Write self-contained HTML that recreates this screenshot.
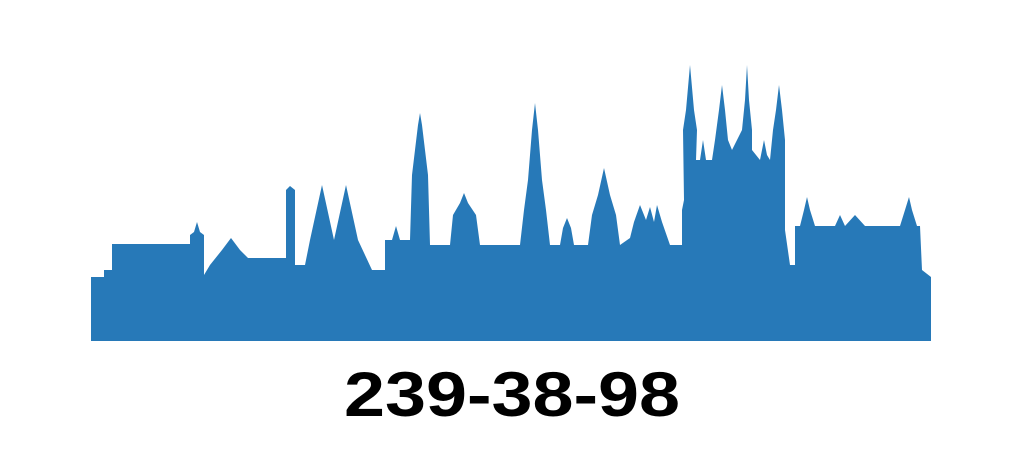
<!DOCTYPE html>
<html><head><meta charset="utf-8"><style>
html,body{margin:0;padding:0;background:#fff;width:1017px;height:465px;overflow:hidden}
</style></head><body>
<svg width="1017" height="465" viewBox="0 0 1017 465">
<g fill="#2779b8">
<path d="
M91,341 L91,277 L104,277 L104,270 L112,270 L112,244 L190,244 L190,235 L194,232 L197,222 L200,232 L204,235 L204,275 L210,265 L222,250 L231,238 L240,250 L248,258 L286,258 L286,190 L290,186 L295,190 L295,265 L305,265 L310,240 L322,185 L334,240 L346,185 L358,240 L372,270 L385,270 L385,240 L392,240 L396,226 L400,240 L410,240 L412,175 L415,150 L418,125 L420,113 L422,125 L425,150 L428,175 L430,245 L450,245 L453,215 L460,203 L464,193 L468,203 L476,215 L480,245 L520,245 L524,210 L528,180 L532,130 L535,103 L538,130 L542,180 L546,210 L550,245 L560,245 L563,228 L567,218 L571,228 L574,245 L588,245 L592,215 L598,195 L604,168 L610,195 L616,215 L620,245 L630,238 L634,222 L640,205 L646,220 L650,207 L654,222 L657,205 L662,222 L670,245 L682,245 L682,210 L684,200 L683,130 L686,110 L690,65 L694,110 L697,130 L696,160 L700,160 L703,140 L706,160 L712,160 L715,140 L719,110 L722,85 L725,110 L728,140 L732,150 L742,130 L745,100 L747,65 L749,100 L752,130 L752,150 L760,160 L764,140 L767,155 L770,160 L773,130 L776,110 L779,85 L782,110 L785,140 L785,230 L790,265 L795,265 L795,226 L800,226 L804,210 L807,197 L810,210 L815,226 L835,226 L840,215 L845,226 L855,215 L865,226 L900,226 L905,210 L909,197 L912,210 L917,226 L920,226 L922,270 L931,277 L931,341 Z"/>
</g>
<text x="512" y="416" text-anchor="middle" textLength="336" lengthAdjust="spacingAndGlyphs" font-family="'Liberation Sans', 'DejaVu Sans', sans-serif" font-weight="bold" font-size="63" fill="#000">239-38-98</text>
</svg>
</body></html>
